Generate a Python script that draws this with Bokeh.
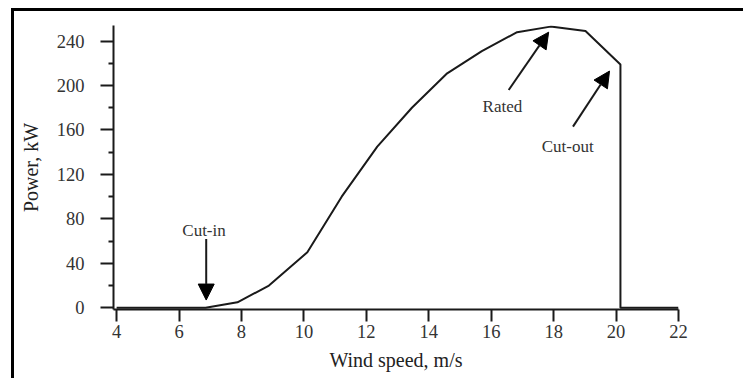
from bokeh.plotting import figure
from bokeh.models import FixedTicker, Arrow, NormalHead, Label, Range1d
from bokeh.embed import file_html
from bokeh.resources import INLINE

# Data
wind_speed = [4, 6.85, 7.87, 8.88, 10.11, 11.21, 12.35, 13.46, 14.59, 15.7, 16.83, 17.9, 19.02, 20.14, 20.14, 22]
power_kw = [0, 0, 5, 20, 50, 100, 145, 180, 211, 231, 248, 253, 249, 219, 0, 0]

x_ticks = [4, 6, 8, 10, 12, 14, 16, 18, 20, 22]
y_ticks = [0, 40, 80, 120, 160, 200, 240]
y_minor = [20, 60, 100, 140, 180, 220]

# Annotations: (text, text_x, text_y, arrow tail x, tail y, tip x, tip y)
ann_text = ["Cut-in", "Rated", "Cut-out"]
ann_tx = [6.8, 16.36, 18.45]
ann_ty = [70, 181, 145]
arr_x0 = [6.87, 16.56, 18.62]
arr_y0 = [62, 196, 163]
arr_x1 = [6.87, 17.84, 19.79]
arr_y1 = [7, 248, 213]

FONT = "Liberation Serif"
INK = "#1a1a1a"

p = figure(width=732, height=370, output_backend="svg", toolbar_location=None,
           x_range=Range1d(3.9, 22), y_range=Range1d(-1.5, 254),
           min_border_left=99, min_border_right=68, min_border_top=14, min_border_bottom=72)
p.styles = {"border-top": "3px solid black", "border-left": "3px solid black",
            "margin-left": "11px", "margin-top": "8px"}

p.grid.visible = False
p.outline_line_color = None
p.background_fill_color = "white"
p.border_fill_color = "white"

p.line(wind_speed, power_kw, line_color=INK, line_width=2)

# x axis
xa = p.xaxis[0]
xa.ticker = FixedTicker(ticks=x_ticks, minor_ticks=[])
xa.axis_label = "Wind speed, m/s"
xa.axis_line_width = 2
xa.axis_line_color = INK
xa.major_tick_line_width = 2
xa.major_tick_line_color = INK
xa.major_tick_out = 12
xa.major_tick_in = 0
xa.minor_tick_line_color = None
xa.major_label_text_font = FONT
xa.major_label_text_font_size = "18.5px"
xa.major_label_text_color = "#333333"
xa.major_label_standoff = 3
xa.axis_label_text_font = FONT
xa.axis_label_text_font_size = "20px"
xa.axis_label_text_font_style = "normal"
xa.axis_label_text_color = "#222222"
xa.axis_label_standoff = 8

# y axis
ya = p.yaxis[0]
ya.ticker = FixedTicker(ticks=y_ticks, minor_ticks=y_minor)
ya.axis_label = "Power, kW"
ya.axis_line_width = 2
ya.axis_line_color = INK
ya.major_tick_line_width = 2
ya.major_tick_line_color = INK
ya.major_tick_out = 13
ya.major_tick_in = 0
ya.minor_tick_line_width = 2
ya.minor_tick_line_color = INK
ya.minor_tick_out = 5
ya.minor_tick_in = 0
ya.major_label_text_font = FONT
ya.major_label_text_font_size = "18.5px"
ya.major_label_text_color = "#333333"
ya.major_label_standoff = 16
ya.axis_label_text_font = FONT
ya.axis_label_text_font_size = "20px"
ya.axis_label_text_font_style = "normal"
ya.axis_label_text_color = "#222222"
ya.axis_label_standoff = 12

for t, tx, ty, x0, y0, x1, y1 in zip(ann_text, ann_tx, ann_ty, arr_x0, arr_y0, arr_x1, arr_y1):
    p.add_layout(Arrow(x_start=x0, y_start=y0, x_end=x1, y_end=y1, line_width=2, line_color=INK,
                       end=NormalHead(size=16, fill_color="black", line_color="black", line_width=1)))
    p.add_layout(Label(x=tx, y=ty, text=t, text_align="center", text_baseline="middle",
                       text_font=FONT, text_font_size="17px", text_color="#333333"))

open("out.html", "w").write(file_html(p, INLINE))
